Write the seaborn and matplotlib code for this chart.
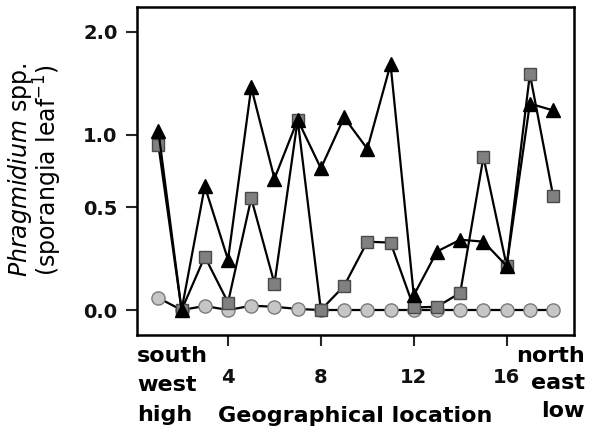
import numpy as np
import pandas as pd
import matplotlib
matplotlib.use("Agg")
import matplotlib.pyplot as plt
import seaborn as sns

# Sampling sites ordered from south-west (high) to north-east (low)
locations = list(range(1, 19))

# Phragmidium spp. sporangia per leaf for three sampling groups
group_a = [1.03, 0.0, 0.63, 0.22, 1.41, 0.68, 1.12, 0.75, 1.14,
           0.89, 1.64, 0.06, 0.26, 0.32, 0.31, 0.19, 1.26, 1.20]
group_b = [0.92, 0.0, 0.235, 0.03, 0.555, 0.11, 1.12, 0.0, 0.10,
           0.31, 0.305, 0.01, 0.013, 0.07, 0.83, 0.19, 1.54, 0.57]
group_c = [0.049, 0.0, 0.016, 0.0, 0.017, 0.013, 0.004, 0.0, 0.0,
           0.0, 0.0, 0.0, 0.0, 0.0, 0.0, 0.0, 0.0, 0.0]

x_ticks = [4, 8, 12, 16]
y_ticks = [0.0, 0.5, 1.0, 2.0]
y_tick_labels = ["0.0", "0.5", "1.0", "2.0"]

left_words = ["south", "west", "high"]
right_words = ["north", "east", "low"]

sns.set_style("white")
plt.rcParams["font.family"] = ["DejaVu Sans"]
plt.rcParams["mathtext.fontset"] = "dejavusans"
plt.rcParams["text.color"] = "black"

W, H = 589, 436
fig = plt.figure(figsize=(W / 100, H / 100), dpi=100)
ax = fig.add_axes([137 / W, 1 - 335 / H, (574 - 137) / W, (335 - 7) / H])

df = pd.DataFrame({"location": locations, "a": group_a, "b": group_b, "c": group_c})

line_kw = dict(color="black", linewidth=1.6, ax=ax, legend=False)
sns.lineplot(data=df, x="location", y="c", marker="o", markersize=9.5,
             markerfacecolor="#c6c6c6", markeredgecolor="#7a7a7a",
             markeredgewidth=1.0, zorder=2, **line_kw)
sns.lineplot(data=df, x="location", y="b", marker="s", markersize=8.3,
             markerfacecolor="#808080", markeredgecolor="#4a4a4a",
             markeredgewidth=1.0, zorder=3, **line_kw)
sns.lineplot(data=df, x="location", y="a", marker="^", markersize=10.5,
             markerfacecolor="black", markeredgecolor="black",
             markeredgewidth=1.0, zorder=4, **line_kw)

ax.set_yscale("function", functions=(np.log1p, np.expm1))
ax.set_ylim(-0.094, 2.31)
ax.set_xlim(0.08, 18.9)

ax.set_yticks(y_ticks)
ax.set_yticklabels(y_tick_labels)
ax.set_xticks(x_ticks)
ax.set_xticklabels([str(t) for t in x_ticks])
ax.minorticks_off()

for lab in ax.get_xticklabels() + ax.get_yticklabels():
    lab.set_fontweight("bold")
    lab.set_fontsize(14)
    lab.set_color("#111111")

ax.tick_params(axis="y", direction="out", length=8, width=1.5, pad=6, left=True)
ax.tick_params(axis="x", direction="out", length=8, width=1.5, pad=16, bottom=True)

for s in ax.spines.values():
    s.set_visible(True)
    s.set_color("black")
    s.set_linewidth(1.8)

ax.set_xlabel("")
ax.set_ylabel("")

# End-of-transect annotations, one word per line
for word, base in zip(left_words, [362, 391, 421]):
    fig.text(137 / W, 1 - base / H, word, ha="left", va="baseline",
             fontsize=16, fontweight="bold")
for word, base in zip(right_words, [362, 389, 417]):
    fig.text(585 / W, 1 - base / H, word, ha="right", va="baseline",
             fontsize=16, fontweight="bold")

fig.text(355 / W, 1 - 422 / H, "Geographical location", ha="center",
         va="baseline", fontsize=16, fontweight="bold")
fig.text(35 / W, 1 - 170 / H,
         "$\\mathit{Phragmidium}$ spp.\n(sporangia leaf$^{-1}$)",
         rotation=90, ha="center", va="center", fontsize=17,
         multialignment="center", linespacing=0.92)

fig.savefig("out.png", dpi=100)
